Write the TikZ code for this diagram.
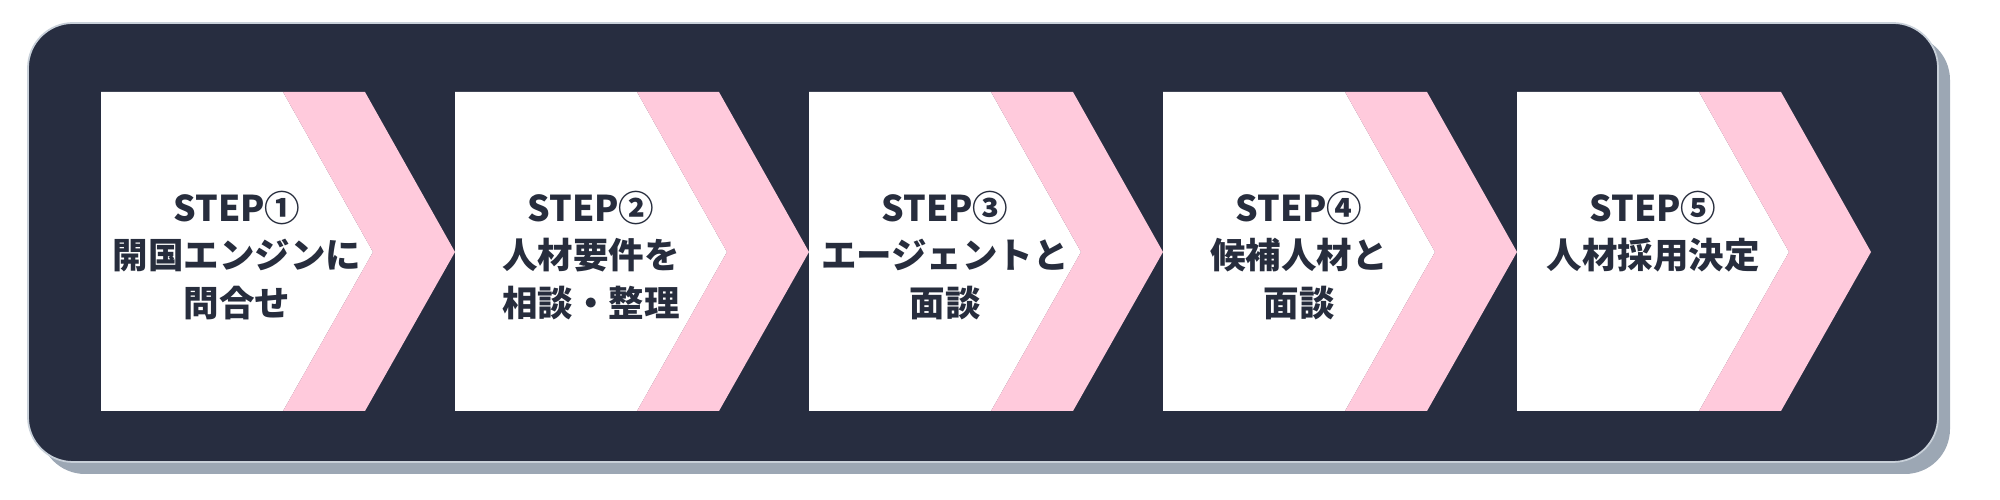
\documentclass[tikz,border=0pt]{standalone}
\usepackage{fontspec}
\newfontfamily\cjk{Noto Sans CJK JP}
\definecolor{bg}{HTML}{272D40}
\definecolor{shad}{HTML}{9CA7B4}
\definecolor{rim}{HTML}{C8D0D9}
\definecolor{pink}{HTML}{FFCADC}
\definecolor{txt}{HTML}{272D3D}
\tikzset{lbl/.style={anchor=north,align=center,inner sep=0pt,text=txt,font=\cjk\bfseries\fontsize{10.1}{13.6}\selectfont}}
\begin{document}
\begin{tikzpicture}
\useasboundingbox (0,0) rectangle (20,5);
\fill[shad,rounded corners=0.45cm] (0.40,0.26) rectangle (19.50,4.65);
\draw[rim,fill=bg,line width=0.5pt,rounded corners=0.45cm] (0.28,0.38) rectangle (19.38,4.77);
\foreach \i/\t in {1/{STEP①\\開国エンジンに\\問合せ},2/{STEP②\\人材要件を\\相談・整理},3/{STEP③\\エージェントと\\面談},4/{STEP④\\候補人材と\\面談},5/{STEP⑤\\人材採用決定}}{
  \pgfmathsetmacro{\xo}{1.01+3.54*(\i-1)}
  \fill[white] (\xo,4.08) -- (\xo+1.82,4.08) -- (\xo+2.72,2.48) -- (\xo+1.82,0.89) -- (\xo,0.89) -- cycle;
  \fill[pink] (\xo+1.82,4.08) -- (\xo+2.64,4.08) -- (\xo+3.54,2.48) -- (\xo+2.64,0.89) -- (\xo+1.82,0.89) -- (\xo+2.72,2.48) -- cycle;
  \node[lbl] (s\i) at (\xo+1.36,3.10) {\t};
}
\end{tikzpicture}
\end{document}
